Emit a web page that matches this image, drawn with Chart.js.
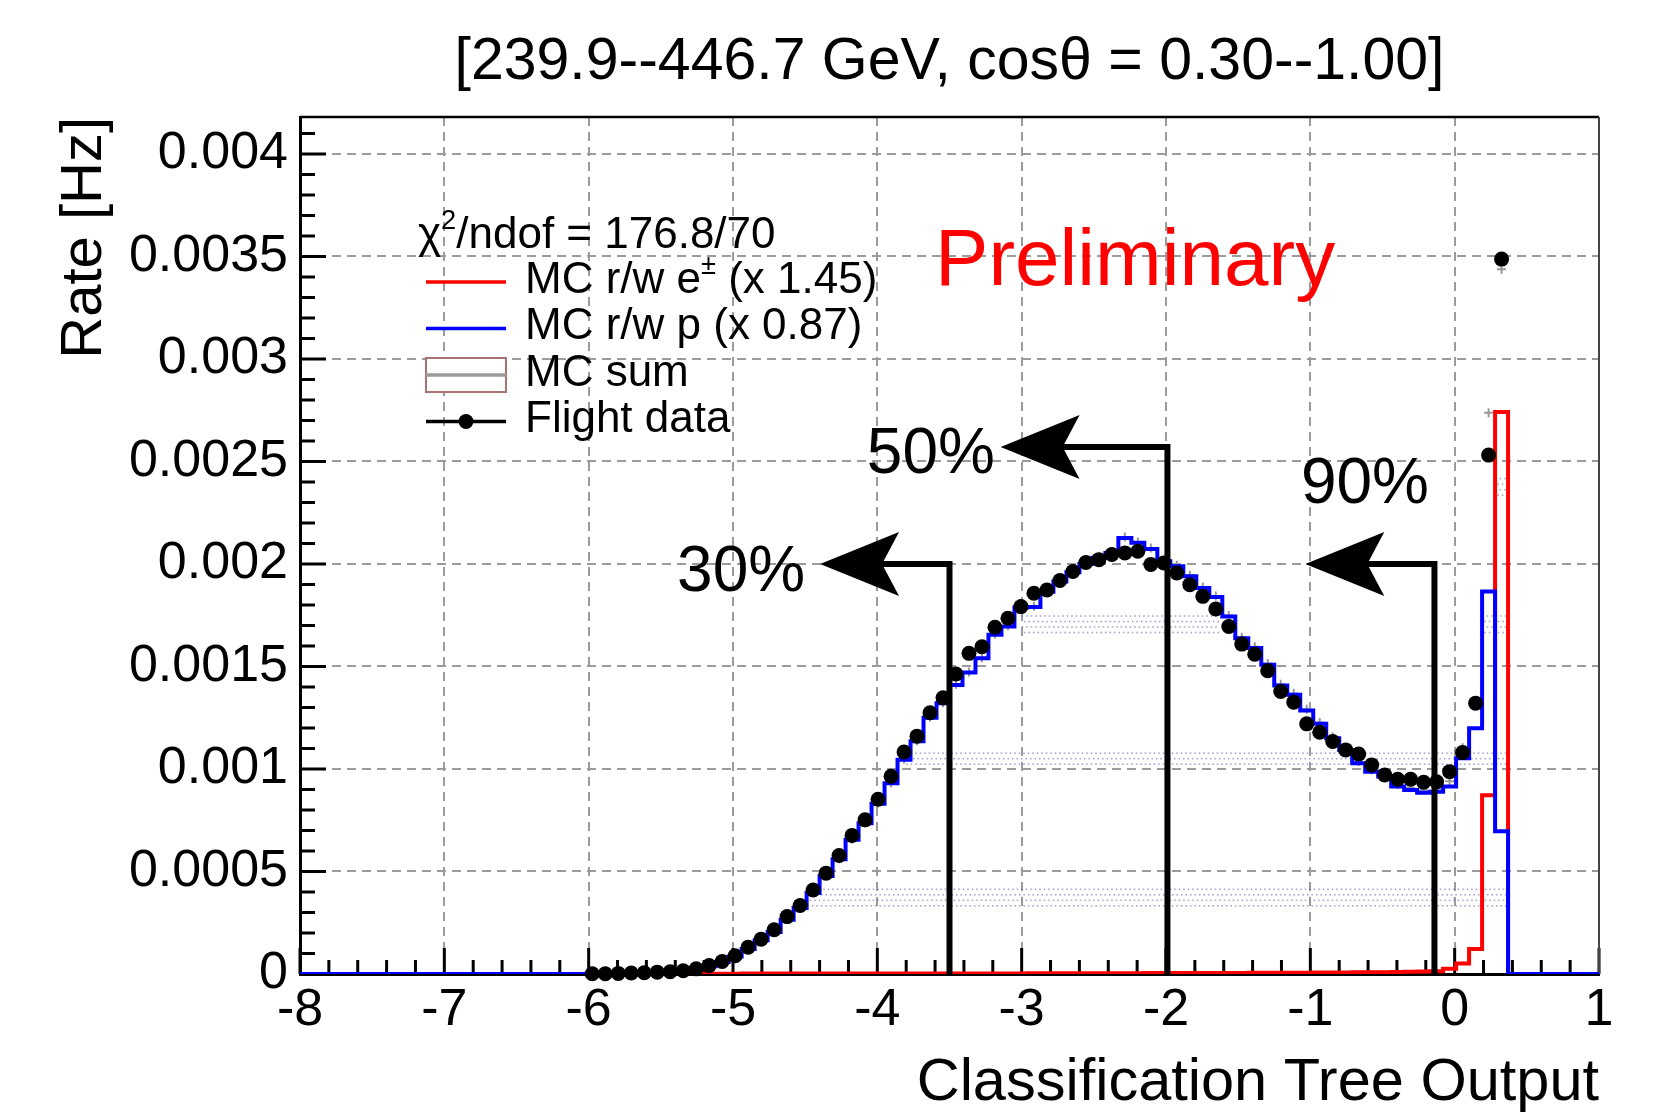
<!DOCTYPE html>
<html>
<head>
<meta charset="utf-8">
<script src="https://cdn.jsdelivr.net/npm/chart.js@4.4.1/dist/chart.umd.min.js"></script>
<style>
  html, body { margin: 0; padding: 0; background: #ffffff; }
  #wrap { width: 1660px; height: 1115px; }
</style>
</head>
<body>
<div id="wrap"><canvas id="c" width="1660" height="1115"></canvas></div>
<script>
// ---------------- data ----------------
const titleText = '[239.9--446.7 GeV, cos\u03B8 = 0.30--1.00]';
const xTitle = 'Classification Tree Output';
const yTitle = 'Rate [Hz]';

const binLow = -8;
const binHigh = 1;
const nBins = 100;
const firstBin = 22;          // first bin holding entries (bins 22..92 listed below)

const xTickValues = [-8, -7, -6, -5, -4, -3, -2, -1, 0, 1];
const xTickLabels = ['-8', '-7', '-6', '-5', '-4', '-3', '-2', '-1', '0', '1'];
const yTickValues = [0, 0.0005, 0.001, 0.0015, 0.002, 0.0025, 0.003, 0.0035, 0.004];
const yTickLabels = ['0', '0.0005', '0.001', '0.0015', '0.002', '0.0025', '0.003', '0.0035', '0.004'];

// Flight data rate per bin [Hz], bins 22..92
const flightRate = [
  0.000001, 0.000001, 0.000003, 0.000005, 0.000006, 0.000009, 0.000011, 0.000016, 0.000025,
  0.000041, 0.000061, 0.000089, 0.000131, 0.000170, 0.000216, 0.000280, 0.000334, 0.000410, 0.000492,
  0.000578, 0.000676, 0.000752, 0.000852, 0.000964, 0.001083, 0.001160, 0.001274, 0.001347, 0.001463,
  0.001564, 0.001596, 0.001691, 0.001735, 0.001792, 0.001857, 0.001873, 0.001919, 0.001963, 0.002007,
  0.002021, 0.002046, 0.002054, 0.002062, 0.001997, 0.002005, 0.001956, 0.001899, 0.001842, 0.001780,
  0.001695, 0.001609, 0.001560, 0.001479, 0.001378, 0.001326, 0.001220, 0.001179, 0.001134, 0.001093,
  0.001073, 0.001020, 0.000971, 0.000950, 0.000950, 0.000935, 0.000938, 0.000987, 0.001080, 0.001321,
  0.002531, 0.003487
];

// MC reweighted protons (x 0.87), bins 22..92
const mcProton = [
  0.000001, 0.000001, 0.000002, 0.000004, 0.000005, 0.000008, 0.000011, 0.000016, 0.000025,
  0.000038, 0.000058, 0.000085, 0.000122, 0.000165, 0.000205, 0.000265, 0.000322, 0.000395, 0.000478,
  0.000560, 0.000655, 0.000735, 0.000830, 0.000930, 0.001045, 0.001135, 0.001250, 0.001320, 0.001410,
  0.001470, 0.001540, 0.001655, 0.001695, 0.001788, 0.001790, 0.001865, 0.001915, 0.001960, 0.002000,
  0.002030, 0.002054, 0.002127, 0.002103, 0.002073, 0.002013, 0.001989, 0.001940, 0.001883, 0.001839,
  0.001744, 0.001638, 0.001590, 0.001508, 0.001407, 0.001362, 0.001285, 0.001220, 0.001150, 0.001093,
  0.001028, 0.000987, 0.000963, 0.000914, 0.000897, 0.000884, 0.000889, 0.000914, 0.001052, 0.001199,
  0.001866, 0.000696
];

// MC reweighted e+- (x 1.45), bins 22..92
const mcElectron = [
  0, 0, 0, 0, 0, 0, 0, 0, 0.000001,
  0.000001, 0.000001, 0.000001, 0.000002, 0.000002, 0.000002, 0.000002, 0.000002, 0.000002, 0.000002,
  0.000002, 0.000002, 0.000002, 0.000003, 0.000003, 0.000003, 0.000003, 0.000003, 0.000003, 0.000003,
  0.000003, 0.000003, 0.000003, 0.000003, 0.000003, 0.000004, 0.000004, 0.000004, 0.000004, 0.000004,
  0.000004, 0.000004, 0.000004, 0.000004, 0.000005, 0.000005, 0.000005, 0.000005, 0.000005, 0.000005,
  0.000005, 0.000005, 0.000006, 0.000006, 0.000006, 0.000006, 0.000006, 0.000007, 0.000007, 0.000007,
  0.000008, 0.000008, 0.000009, 0.000010, 0.000011, 0.000012, 0.000014, 0.000026, 0.000051, 0.000122,
  0.000872, 0.002741
];

// MC sum = e+- + p
const mcSum = mcProton.map((v, i) => v + mcElectron[i]);

// cut lines (efficiency arrows)
const cutValues  = [-3.5, -1.99, -0.14];
const cutHeights = [0.002, 0.00257, 0.002];
const arrowTips  = [-4.397, -3.146, -1.035];
const cutLabels  = ['30%', '50%', '90%'];
const cutLabelX  = [-4.50, -3.185, -0.178];
const cutLabelY  = [0.00198, 0.002556, 0.00241];

// dotted (pattern) fill bands of the MC-sum error band
const bandXMin = [-3.0, 0.19, -3.8, -4.5, 0.28];
const bandXMax = [-1.64, 0.37, 0.37, 0.37, 0.37];
const bandYMin = [0.001667, 0.001667, 0.001003, 0.000325, 0.00233];
const bandYMax = [0.00175, 0.00175, 0.001081, 0.000417, 0.00242];

const chi2Text = '176.8/70';
const prelimText = 'Preliminary';
const prelimX = -3.6;
const prelimY = 0.0035;

// ---------------- helpers ----------------
const FONT = '"Liberation Sans", Arial, Helvetica, sans-serif';
const binWidth = (binHigh - binLow) / nBins;

function histPoints(values) {
  const pts = [];
  for (let k = 0; k < nBins; k++) {
    const i = k - firstBin;
    const v = (i >= 0 && i < values.length) ? values[i] : 0;
    pts.push({ x: binLow + k * binWidth, y: v });
  }
  pts.push({ x: binHigh, y: pts[pts.length - 1].y });
  return pts;
}
function centerPoints(values) {
  return values.map((v, i) => ({ x: binLow + (firstBin + i + 0.5) * binWidth, y: v }));
}

function drawRich(ctx, parts, x, y, size) {
  let cx = x;
  for (const p of parts) {
    if (p.sup) {
      ctx.font = `${size * 0.62}px ${FONT}`;
      ctx.fillText(p.t, cx, y - size * 0.42);
    } else {
      ctx.font = `${size}px ${FONT}`;
      ctx.fillText(p.t, cx, y);
    }
    cx += ctx.measureText(p.t).width;
  }
}

const decor = {
  id: 'decor',
  beforeDatasetsDraw(chart) {
    const { ctx, chartArea: a, scales: { x, y } } = chart;
    ctx.save();
    // dotted bands
    ctx.fillStyle = 'rgba(95,95,175,0.55)';
    for (let b = 0; b < bandXMin.length; b++) {
      const x0 = x.getPixelForValue(bandXMin[b]);
      const x1 = x.getPixelForValue(bandXMax[b]);
      const y0 = y.getPixelForValue(bandYMax[b]);
      const y1 = y.getPixelForValue(bandYMin[b]);
      let row = 0;
      for (let py = y0; py <= y1; py += 5.5, row++) {
        for (let px = x0 + (row % 2) * 2.2; px <= x1; px += 4.5) ctx.fillRect(px, py, 1.6, 1.6);
      }
    }
    // inward ticks
    ctx.strokeStyle = '#000';
    ctx.lineWidth = 3;
    ctx.beginPath();
    for (let i = 0; i < xTickValues.length; i++) {
      const px = x.getPixelForValue(xTickValues[i]);
      ctx.moveTo(px, a.bottom); ctx.lineTo(px, a.bottom - 26);
      if (i < xTickValues.length - 1) {
        const step = (xTickValues[i + 1] - xTickValues[i]) / 5;
        for (let j = 1; j < 5; j++) {
          const mx = x.getPixelForValue(xTickValues[i] + j * step);
          ctx.moveTo(mx, a.bottom); ctx.lineTo(mx, a.bottom - 14);
        }
      }
    }
    const ystep = (yTickValues[1] - yTickValues[0]) / 5;
    for (let i = 0; i < yTickValues.length; i++) {
      const py = y.getPixelForValue(yTickValues[i]);
      ctx.moveTo(a.left, py); ctx.lineTo(a.left + 26, py);
      for (let j = 1; j < 5; j++) {
        const v = yTickValues[i] + j * ystep;
        if (v > y.max) break;
        const my = y.getPixelForValue(v);
        ctx.moveTo(a.left, my); ctx.lineTo(a.left + 15, my);
      }
    }
    ctx.stroke();
    // top and right frame
    ctx.lineWidth = 2.5;
    ctx.strokeStyle = '#000';
    ctx.beginPath();
    ctx.moveTo(a.left, a.top); ctx.lineTo(a.right, a.top);
    ctx.stroke();
    ctx.strokeStyle = '#444';
    ctx.lineWidth = 2;
    ctx.beginPath();
    ctx.moveTo(a.right, a.top); ctx.lineTo(a.right, a.bottom);
    ctx.stroke();
    ctx.restore();
  },
  afterDatasetsDraw(chart) {
    const { ctx, chartArea: a, scales: { x, y } } = chart;
    ctx.save();
    // cut arrows
    ctx.strokeStyle = '#000';
    ctx.fillStyle = '#000';
    ctx.lineWidth = 6;
    ctx.lineJoin = 'miter';
    for (let i = 0; i < cutValues.length; i++) {
      const cx = x.getPixelForValue(cutValues[i]);
      const yb = y.getPixelForValue(0);
      const yt = y.getPixelForValue(cutHeights[i]);
      const tip = x.getPixelForValue(arrowTips[i]);
      ctx.beginPath();
      ctx.moveTo(cx, yb); ctx.lineTo(cx, yt); ctx.lineTo(tip + 60, yt);
      ctx.stroke();
      ctx.beginPath();
      ctx.moveTo(tip, yt);
      ctx.lineTo(tip + 79, yt - 32);
      ctx.lineTo(tip + 62, yt);
      ctx.lineTo(tip + 79, yt + 32);
      ctx.closePath();
      ctx.fill();
      ctx.font = `64px ${FONT}`;
      ctx.textAlign = 'right';
      ctx.textBaseline = 'alphabetic';
      ctx.fillText(cutLabels[i], x.getPixelForValue(cutLabelX[i]), y.getPixelForValue(cutLabelY[i]) + 0.358 * 64);
    }
    // Preliminary
    ctx.fillStyle = '#ff0000';
    ctx.textAlign = 'left';
    ctx.font = `80px ${FONT}`;
    ctx.fillText(prelimText, x.getPixelForValue(prelimX), y.getPixelForValue(prelimY) + 0.358 * 80);

    // legend
    const L = a.left, T = a.top, fs = 44, off = 0.358 * fs;
    ctx.fillStyle = '#000';
    ctx.textAlign = 'left';
    drawRich(ctx, [{ t: '\u03C7' }, { t: '2', sup: true }, { t: '/ndof = ' + chi2Text }], L + 118, T + 115 + off, fs);
    const ds = chart.data.datasets;
    const red = ds.find(d => d.id === 'e');
    const blue = ds.find(d => d.id === 'p');
    const x0 = L + 126, x1 = L + 206, tx = L + 225;
    // red
    ctx.lineWidth = 3.5;
    ctx.strokeStyle = red.borderColor;
    ctx.beginPath(); ctx.moveTo(x0, T + 165); ctx.lineTo(x1, T + 165); ctx.stroke();
    drawRich(ctx, [{ t: 'MC r/w e' }, { t: '\u00B1', sup: true }, { t: ' (x 1.45)' }], tx, T + 160 + off, fs);
    // blue
    ctx.strokeStyle = blue.borderColor;
    ctx.beginPath(); ctx.moveTo(x0, T + 211.5); ctx.lineTo(x1, T + 211.5); ctx.stroke();
    drawRich(ctx, [{ t: 'MC r/w p (x 0.87)' }], tx, T + 206 + off, fs);
    // MC sum
    ctx.fillStyle = '#ffffff';
    ctx.fillRect(x0, T + 241, x1 - x0, 34);
    ctx.strokeStyle = 'rgb(170,115,115)';
    ctx.lineWidth = 2;
    ctx.strokeRect(x0, T + 241, x1 - x0, 34);
    ctx.strokeStyle = '#9a9a9a';
    ctx.lineWidth = 3.5;
    ctx.beginPath(); ctx.moveTo(x0, T + 258); ctx.lineTo(x1, T + 258); ctx.stroke();
    ctx.fillStyle = '#000';
    drawRich(ctx, [{ t: 'MC sum' }], tx, T + 253 + off, fs);
    // Flight data
    ctx.strokeStyle = '#000';
    ctx.beginPath(); ctx.moveTo(x0, T + 304.5); ctx.lineTo(x1, T + 304.5); ctx.stroke();
    ctx.beginPath(); ctx.arc((x0 + x1) / 2, T + 304.5, 7.5, 0, Math.PI * 2); ctx.fill();
    drawRich(ctx, [{ t: 'Flight data' }], tx, T + 299 + off, fs);
    ctx.restore();
  }
};

new Chart(document.getElementById('c'), {
  type: 'line',
  data: {
    datasets: [
      {
        id: 'data', label: 'Flight data', data: centerPoints(flightRate), showLine: false,
        pointRadius: 7.5, pointBackgroundColor: '#000', pointBorderWidth: 0, order: 0, clip: false
      },
      {
        id: 'p', label: 'MC r/w p (x 0.87)', data: histPoints(mcProton), stepped: true,
        borderColor: '#0000ff', borderWidth: 4, pointRadius: 0, fill: false, order: 1
      },
      {
        id: 'sum', label: 'MC sum', data: centerPoints(mcSum), showLine: false,
        pointStyle: 'cross', pointRadius: 4.5, pointBorderColor: '#999', pointBorderWidth: 2, order: 2
      },
      {
        id: 'e', label: 'MC r/w e\u00B1 (x 1.45)', data: histPoints(mcElectron), stepped: true,
        borderColor: '#ff0000', borderWidth: 4, pointRadius: 0, fill: false, order: 3
      }
    ]
  },
  options: {
    responsive: false,
    animation: false,
    events: [],
    layout: { padding: { left: 0, right: 61, top: 0, bottom: 0 } },
    plugins: {
      legend: { display: false },
      tooltip: { enabled: false },
      title: {
        display: true, text: titleText, fullSize: false, color: '#000',
        font: { family: FONT, size: 59, weight: 'normal' },
        padding: { top: 27.6, bottom: 18.6 }
      }
    },
    scales: {
      x: {
        type: 'linear', min: binLow, max: binHigh,
        afterBuildTicks: s => { s.ticks = xTickValues.map(v => ({ value: v })); },
        afterFit: s => { s.height = 141; },
        ticks: {
          callback: (v, i) => xTickLabels[i], font: { family: FONT, size: 52 }, color: '#000',
          padding: 5, maxRotation: 0, autoSkip: false
        },
        grid: { color: '#9b9b9b', lineWidth: 2, drawTicks: false },
        border: { display: true, color: '#000', width: 3, dash: [9, 6] },
        title: {
          display: true, text: xTitle, align: 'end', color: '#000',
          font: { family: FONT, size: 59.5 }, padding: { top: 0, bottom: -4 }
        }
      },
      y: {
        type: 'linear', min: 0, max: 0.00418,
        afterBuildTicks: s => { s.ticks = yTickValues.map(v => ({ value: v })); },
        afterFit: s => { s.width = 300; },
        ticks: {
          callback: (v, i) => yTickLabels[i], font: { family: FONT, size: 52 }, color: '#000',
          padding: 12, crossAlign: 'near', autoSkip: false
        },
        grid: { color: '#9b9b9b', lineWidth: 2, drawTicks: false },
        border: { display: true, color: '#000', width: 3, dash: [9, 6] },
        title: {
          display: true, text: yTitle, align: 'end', color: '#000',
          font: { family: FONT, size: 58 }, padding: { top: 50, bottom: 0 }
        }
      }
    }
  },
  plugins: [decor]
});
</script>
</body>
</html>
